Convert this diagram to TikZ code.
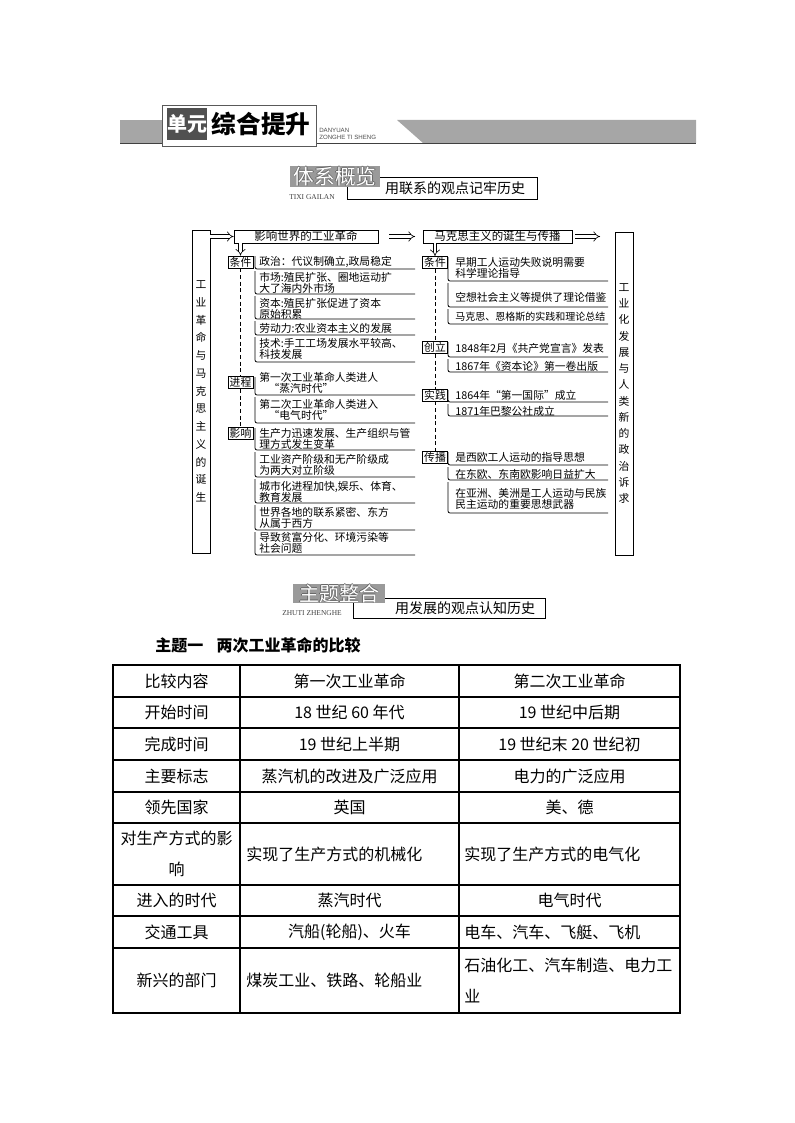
\documentclass[tikz,border=0pt]{standalone}
\usepackage{fontspec}
\setmainfont{Noto Sans CJK SC}
\newfontfamily\latserif{Liberation Serif}
\newfontfamily\latsans{Liberation Sans}
\usetikzlibrary{arrows.meta}
\definecolor{bargray}{HTML}{A6A6A6}
\definecolor{boxgray}{HTML}{9A9A9A}
\definecolor{darkbox}{HTML}{505050}
\newcommand{\mmf}{\fontsize{8.1}{8.4}\selectfont}
\newcommand{\tbf}{\fontsize{12}{23}\selectfont}
\begin{document}
\begin{tikzpicture}[x=0.75pt,y=-0.75pt,
  it/.style={anchor=west,inner sep=0pt,font=\mmf,align=left},
  lab/.style={draw,line width=0.6pt,inner sep=0pt,minimum width=18.75pt,minimum height=9pt,font=\mmf},
  br/.style={line width=0.6pt,rounded corners=1.5pt},
  dbl/.style={double,double distance=2.2pt,line width=0.45pt,-{Implies}},
  dsh/.style={densely dashed,line width=0.5pt},
  tbox/.style={draw,line width=0.6pt,inner sep=0pt,minimum height=9.75pt,font=\fontsize{8.6}{8.6}\selectfont},
  vbox/.style={draw,line width=0.6pt,inner sep=0pt,minimum width=13.5pt,minimum height=242.25pt,align=center},
  cell/.style={font=\tbf,inner sep=0pt,align=center},
  cellw/.style={font=\tbf,inner sep=0pt,anchor=west,align=left},
  tl/.style={line width=0.8pt},
  outl/.style={text=black!60,inner sep=0pt},
  whitet/.style={text=white,inner sep=0pt}]
\useasboundingbox (0,0) rectangle (794,1123);

% ---------- header ----------
\fill[bargray] (120,120) rectangle (170,143);
\fill[bargray] (397,120) -- (696,120) -- (696,143) -- (423,143) -- cycle;
\draw[line width=1.1pt,black!75] (120,143.5) -- (696,143.5);
\draw[fill=white,draw=black!65,line width=0.7pt] (162,105) rectangle (316,146);
\fill[darkbox] (167,108) rectangle (207,140);
\node[font=\fontsize{15}{15}\selectfont\bfseries,text=white,inner sep=0] (dy) at (187,124) {单元};
\node[font=\fontsize{18.5}{18.5}\selectfont\bfseries,inner sep=0] (zh) at (261,124) {综合提升};
\node[font=\latsans\fontsize{4.6}{5.2}\selectfont,anchor=west,align=left,inner sep=0,text=black!70] (py) at (319,134) {DANYUAN\\ZONGHE TI SHENG};

% ---------- 体系概览 ----------
\draw[fill=white,line width=0.6pt] (347,177) rectangle (537,199);
\fill[boxgray] (290,166) rectangle (380,187);
\foreach \dx/\dy in {-0.6/0,0.6/0,0/-0.6,0/0.6}
  \node[outl,font=\fontsize{15.5}{15.5}\selectfont] at (335+\dx,176.5+\dy) {体系概览};
\node[whitet,font=\fontsize{15.5}{15.5}\selectfont] (txgl) at (335,176.5) {体系概览};
\node[font=\latserif\fontsize{5.6}{6}\selectfont,anchor=west,inner sep=0,text=black!75] (txpy) at (289,197) {TIXI GAILAN};
\node[font=\fontsize{10.5}{10.5}\selectfont,inner sep=0] (txsub) at (455,188) {用联系的观点记牢历史};

% ---------- mind map ----------
\node[vbox,font=\fontsize{8.1}{13.3}\selectfont] (lbox) at (201,391.5) {工\\业\\革\\命\\与\\马\\克\\思\\主\\义\\的\\诞\\生};
\node[vbox,font=\fontsize{8.1}{12.2}\selectfont] (rbox) at (624,393.5) {工\\业\\化\\发\\展\\与\\人\\类\\新\\的\\政\\治\\诉\\求};
\node[tbox,minimum width=108pt] (b1) at (306,236.5) {影响世界的工业革命};
\node[tbox,minimum width=111.75pt] (b2) at (497.5,236.5) {马克思主义的诞生与传播};
\coordinate (m1) at (389,236.5);
\coordinate (m2) at (415,236.5);
\coordinate (r1) at (575,236.5);
\coordinate (r2) at (600,236.5);
\draw[dbl] (lbox.east |- b1.west) -- (b1.west);
\draw[dbl] (m1) -- (m2);
\draw[dbl] (r1) -- (r2);

% left labels
\node[lab] (lk1) at (240.5,262) {条件};
\node[lab] (lk2) at (240.5,382.5) {进程};
\node[lab] (lk3) at (240.5,433.5) {影响};
\draw[dbl] (b1.south -| lk1) -- (lk1.north);
\draw[dsh] (lk1.south) -- (lk2.north);
\draw[dsh] (lk2.south) -- (lk3.north);

% left items
\node[it] (l1) at (259,262) {政治：代议制确立,政局稳定};
\node[it] (l2) at (259,282.5) {市场:殖民扩张、圈地运动扩\\大了海内外市场};
\node[it] (l3) at (259,308.5) {资本:殖民扩张促进了资本\\原始积累};
\node[it] (l4) at (259,328) {劳动力:农业资本主义的发展};
\node[it] (l5) at (259,349) {技术:手工工场发展水平较高、\\科技发展};
\node[it] (l6) at (259,383) {第一次工业革命人类进人\\\hspace{7pt}“蒸汽时代”};
\node[it] (l7) at (259,410) {第二次工业革命人类进入\\\hspace{7pt}“电气时代”};
\node[it] (l8) at (259,439) {生产力迅速发展、生产组织与管\\理方式发生变革};
\node[it] (l9) at (259,465) {工业资产阶级和无产阶级成\\为两大对立阶级};
\node[it] (l10) at (259,492) {城市化进程加快,娱乐、体育、\\教育发展};
\node[it] (l11) at (259,518) {世界各地的联系紧密、东方\\从属于西方};
\node[it] (l12) at (259,543) {导致贫富分化、环境污染等\\社会问题};
\foreach \a/\b in {256/269,271/294,296/319,321/335,337/362,377/395,397/423,428/450,452/477,479/503,505/530,532/555}
  \draw[br] (255,\a) |- (415,\b);

% right labels
\node[lab] (rk1) at (435,262.5) {条件};
\node[lab] (rk2) at (435,347.5) {创立};
\node[lab] (rk3) at (435,395) {实践};
\node[lab] (rk4) at (435,457) {传播};
\draw[dbl] (b2.south -| rk1) -- (rk1.north);
\draw[dsh] (rk1.south) -- (rk2.north);
\draw[dsh] (rk2.south) -- (rk3.north);
\draw[dsh] (rk3.south) -- (rk4.north);

% right items
\node[it] (q1) at (455,268) {早期工人运动失败说明需要\\科学理论指导};
\node[it] (q2) at (455,297) {空想社会主义等提供了理论借鉴};
\node[it,font=\fontsize{7.5}{8}\selectfont] (q3) at (455,317) {马克思、恩格斯的实践和理论总结};
\node[it] (q4) at (455,348) {1848年2月《共产党宣言》发表};
\node[it] (q5) at (455,366) {1867年《资本论》第一卷出版};
\node[it] (q6) at (455,395) {1864年“第一国际”成立};
\node[it] (q7) at (455,411) {1871年巴黎公社成立};
\node[it] (q8) at (455,457) {是西欧工人运动的指导思想};
\node[it] (q9) at (455,474) {在东欧、东南欧影响日益扩大};
\node[it] (q10) at (455,499) {在亚洲、美洲是工人运动与民族\\民主运动的重要思想武器};
\foreach \a/\b in {257/281,283/307,309/324,342/357,359/372,390/402,404/416,452/465,467/480,482/513}
  \draw[br] (448,\a) |- (608,\b);

% ---------- 主题整合 ----------
\draw[fill=white,line width=0.6pt] (353,598) rectangle (545,618);
\fill[boxgray] (293,584) rectangle (385,603);
\foreach \dx/\dy in {-0.6/0,0.6/0,0/-0.6,0/0.6}
  \node[outl,font=\fontsize{15}{15}\selectfont] at (339+\dx,593.5+\dy) {主题整合};
\node[whitet,font=\fontsize{15}{15}\selectfont] (ztzh) at (339,593.5) {主题整合};
\node[font=\latserif\fontsize{5.6}{6}\selectfont,anchor=west,inner sep=0,text=black!75] (ztpy) at (282,613) {ZHUTI ZHENGHE};
\node[font=\fontsize{10.5}{10.5}\selectfont,inner sep=0] (ztsub) at (465,608) {用发展的观点认知历史};

\node[font=\fontsize{12}{12}\selectfont\bfseries,anchor=west,inner sep=0] (zt1) at (155,645) {主题一\hspace{10pt}两次工业革命的比较};

% ---------- table ----------
\draw[tl] (113,665) rectangle (680,1013);
\draw[tl] (240,665) -- (240,1013);
\draw[tl] (459,665) -- (459,1013);
\foreach \y in {697,728,760,792,823,885,916,948}
  \draw[tl] (113,\y) -- (680,\y);

\node[cell] (c11) at (176.5,681) {比较内容};
\node[cell] (c12) at (349.5,681) {第一次工业革命};
\node[cell] (c13) at (569.5,681) {第二次工业革命};
\node[cell] (c21) at (176.5,712.5) {开始时间};
\node[cell] (c22) at (349.5,712.5) {18 世纪 60 年代};
\node[cell] (c23) at (569.5,712.5) {19 世纪中后期};
\node[cell] (c31) at (176.5,744) {完成时间};
\node[cell] (c32) at (349.5,744) {19 世纪上半期};
\node[cell] (c33) at (569.5,744) {19 世纪末 20 世纪初};
\node[cell] (c41) at (176.5,776) {主要标志};
\node[cell] (c42) at (349.5,776) {蒸汽机的改进及广泛应用};
\node[cell] (c43) at (569.5,776) {电力的广泛应用};
\node[cell] (c51) at (176.5,807.5) {领先国家};
\node[cell] (c52) at (349.5,807.5) {英国};
\node[cell] (c53) at (569.5,807.5) {美、德};
\node[cell] (c61) at (176.5,854) {对生产方式的影\\响};
\node[cellw] (c62) at (246,854) {实现了生产方式的机械化};
\node[cellw] (c63) at (464,854) {实现了生产方式的电气化};
\node[cell] (c71) at (176.5,900.5) {进入的时代};
\node[cell] (c72) at (349.5,900.5) {蒸汽时代};
\node[cell] (c73) at (569.5,900.5) {电气时代};
\node[cell] (c81) at (176.5,932) {交通工具};
\node[cell] (c82) at (349.5,932) {汽船(轮船)、火车};
\node[cellw] (c83) at (464,932) {电车、汽车、飞艇、飞机};
\node[cell] (c91) at (176.5,980.5) {新兴的部门};
\node[cellw] (c92) at (246,980.5) {煤炭工业、铁路、轮船业};
\node[cellw] (c93) at (464,980.5) {石油化工、汽车制造、电力工\\业};
\end{tikzpicture}
\end{document}
